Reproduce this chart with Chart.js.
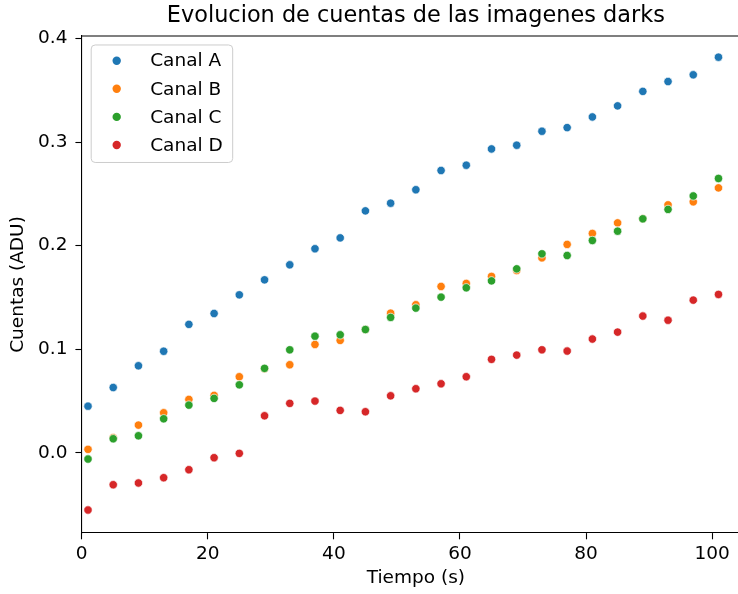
<!DOCTYPE html>
<html>
<head>
<meta charset="utf-8">
<script src="https://cdn.jsdelivr.net/npm/chart.js@4/dist/chart.umd.min.js"></script>
<style>
  html, body { margin: 0; padding: 0; background: #fff; }
  #wrap { width: 738px; height: 594px; overflow: hidden; }
  canvas { display: block; }
</style>
</head>
<body>
<div id="wrap"><canvas id="darks" width="760" height="594"></canvas></div>
<script>
// tiempo de exposicion (s)
var tiempo = [1, 5, 9, 13, 17, 21, 25, 29, 33, 37, 41, 45, 49, 53, 57, 61, 65, 69, 73, 77, 81, 85, 89, 93, 97, 101];

// cuentas medias por canal (ADU)
var canalA = [0.045, 0.063, 0.084, 0.098, 0.124, 0.1345, 0.1525, 0.167, 0.1815, 0.197, 0.2075, 0.2336, 0.241,
              0.254, 0.2726, 0.2777, 0.2934, 0.297, 0.3105, 0.314, 0.3243, 0.335, 0.349, 0.3585, 0.365, 0.382];
var canalB = [0.0033, 0.0145, 0.0267, 0.0386, 0.0515, 0.0554, 0.0734, 0.081, 0.085, 0.1046, 0.1085, 0.119, 0.1348,
              0.1429, 0.1606, 0.1635, 0.1703, 0.176, 0.1882, 0.2012, 0.2118, 0.222, 0.226, 0.2394, 0.2423, 0.2558];
var canalC = [-0.0061, 0.0135, 0.0164, 0.0328, 0.046, 0.0525, 0.0656, 0.0815, 0.0994, 0.1126, 0.1139, 0.119, 0.1307,
              0.1397, 0.1503, 0.1593, 0.166, 0.1776, 0.1921, 0.1905, 0.205, 0.214, 0.2259, 0.235, 0.248, 0.2649];
var canalD = [-0.0553, -0.0309, -0.0292, -0.0241, -0.0164, -0.0048, -0.0006, 0.0357, 0.0477, 0.0499, 0.0409, 0.0396, 0.055,
              0.0618, 0.0666, 0.0734, 0.0902, 0.0943, 0.0994, 0.0982, 0.1098, 0.1165, 0.132, 0.128, 0.1474, 0.1529];

var nombres = ['Canal A', 'Canal B', 'Canal C', 'Canal D'];
var colores = ['#1f77b4', '#ff7f0e', '#2ca02c', '#d62728'];

var xTicks = [0, 20, 40, 60, 80, 100];
var yTicks = [0.0, 0.1, 0.2, 0.3, 0.4];

var FONT = 'DejaVu Sans';
var TXT = 18.5;

function puntos(serie) {
    return serie.map(function (v, i) { return { x: tiempo[i], y: v }; });
}

var series = [canalA, canalB, canalC, canalD];
var datasets = series.map(function (s, i) {
    return {
        label: nombres[i],
        data: puntos(s),
        backgroundColor: colores[i],
        borderColor: 'rgba(255,255,255,0.85)',
        borderWidth: 0.8,
        pointRadius: 4.2,
        // el ultimo canal queda encima, como en matplotlib
        order: series.length - i
    };
});

// marco superior de los ejes
var marco = {
    id: 'marco',
    afterDatasetsDraw: function (chart) {
        var a = chart.chartArea, c = chart.ctx;
        c.save();
        c.strokeStyle = '#000';
        c.lineWidth = 1.1;
        c.beginPath();
        c.moveTo(a.left, a.top);
        c.lineTo(a.right, a.top);
        c.lineTo(a.right, a.bottom);
        c.stroke();
        c.restore();
    }
};

// leyenda dentro del area, arriba a la izquierda
var leyenda = {
    id: 'leyenda',
    afterDraw: function (chart) {
        var a = chart.chartArea, c = chart.ctx;
        var x0 = a.left + 9.5, y0 = a.top + 9, w = 141.5, h = 117.5, r = 4;
        c.save();
        c.beginPath();
        c.roundRect(x0, y0, w, h, r);
        c.fillStyle = 'rgba(255,255,255,0.8)';
        c.fill();
        c.strokeStyle = '#cccccc';
        c.lineWidth = 1;
        c.stroke();
        c.font = TXT + 'px "' + FONT + '"';
        c.textBaseline = 'middle';
        chart.data.datasets.forEach(function (ds, i) {
            var y = y0 + 15.7 + i * 28.1;
            c.beginPath();
            c.arc(x0 + 25.5, y, 4.2, 0, Math.PI * 2);
            c.fillStyle = ds.backgroundColor;
            c.fill();
            c.fillStyle = '#000';
            c.fillText(ds.label, x0 + 59, y + 1);
        });
        c.restore();
    }
};

var ctx = document.getElementById('darks').getContext('2d');
var chart = new Chart(ctx, {
    type: 'scatter',
    data: { datasets: datasets },
    plugins: [marco, leyenda],
    options: {
        responsive: false,
        animation: false,
        layout: { padding: { left: 0, top: 0, right: 10, bottom: 0 } },
        plugins: {
            legend: { display: false },
            tooltip: { enabled: false },
            title: {
                display: true,
                fullSize: false,
                text: 'Evolucion de cuentas de las imagenes darks',
                color: '#000',
                font: { family: FONT, size: 22.4, weight: 'normal' },
                padding: { top: 2.4, bottom: 6.7 }
            }
        },
        scales: {
            x: {
                type: 'linear',
                min: 0,
                max: 106,
                afterBuildTicks: function (scale) {
                    scale.ticks = xTicks.map(function (v) { return { value: v }; });
                },
                afterFit: function (scale) { scale.height = 61; },
                grid: { drawOnChartArea: false, drawTicks: true, tickLength: 6.3, color: '#000', tickWidth: 1.1 },
                border: { display: true, color: '#000', width: 1.1 },
                ticks: {
                    color: '#000',
                    padding: 4,
                    maxRotation: 0,
                    font: { family: FONT, size: TXT }
                },
                title: {
                    display: true,
                    text: 'Tiempo (s)',
                    color: '#000',
                    font: { family: FONT, size: TXT },
                    padding: { top: 0, bottom: 4.5 }
                }
            },
            y: {
                type: 'linear',
                min: -0.0775,
                max: 0.4025,
                afterBuildTicks: function (scale) {
                    scale.ticks = yTicks.map(function (v) { return { value: v }; });
                },
                afterFit: function (scale) { scale.width = 81.7; },
                grid: { drawOnChartArea: false, drawTicks: true, tickLength: 6.3, color: '#000', tickWidth: 1.1 },
                border: { display: true, color: '#000', width: 1.1 },
                ticks: {
                    color: '#000',
                    padding: 8,
                    font: { family: FONT, size: TXT },
                    callback: function (v) { return v.toFixed(1); }
                },
                title: {
                    display: true,
                    text: 'Cuentas (ADU)',
                    color: '#000',
                    font: { family: FONT, size: TXT },
                    padding: { top: 7.5, bottom: 0 }
                }
            }
        }
    }
});
</script>
</body>
</html>
